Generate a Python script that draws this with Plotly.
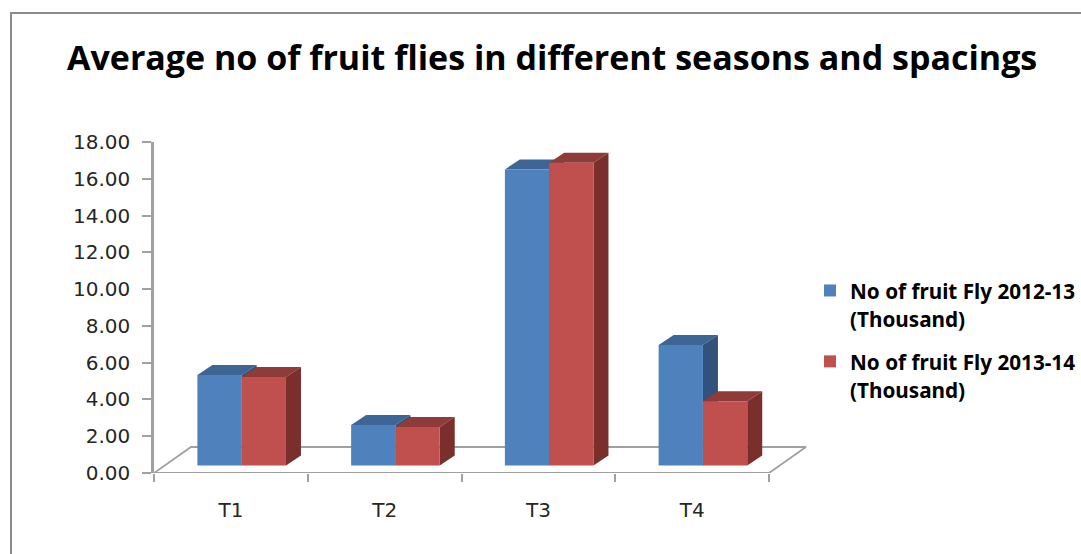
import plotly.graph_objects as go

categories = ["T1", "T2", "T3", "T4"]
flies_2012_13 = [4.92, 2.2, 16.1, 6.55]
flies_2013_14 = [4.81, 2.1, 16.47, 3.5]
series_names = ["No of fruit Fly 2012-13<br>(Thousand)", "No of fruit Fly 2013-14<br>(Thousand)"]
y_ticks = [0, 2, 4, 6, 8, 10, 12, 14, 16, 18]

W, H = 1081, 554
LEFT, RIGHT, TOP, BOTTOM = 154, 769, 142, 473
EXTRA = 45                   # room to the right of the last category for the floor
ux = (RIGHT - LEFT) / 4      # px per category
uy = (BOTTOM - TOP) / 18     # px per value unit
bar_w = 44.3 / ux
base = 7.5 / uy              # bars stand mid-way into the floor
shift_x = 10.8 / ux          # perspective shift of the bars off the category centre
dx, dy = 15 / ux, 10 / uy    # bar depth
fx, fy = 37 / ux, 26 / uy    # floor depth
x_max = 3.5 + EXTRA / ux

GREY = "#a0a0a0"
TXT = "#262626"
TICK_FONT = dict(family="DejaVu Sans", size=20, color=TXT)


def faces(values, shift):
    tx, ty, sx, sy = [], [], [], []
    for i, v in enumerate(values):
        xl = i + shift_x + shift * bar_w
        xr = xl + bar_w
        t = base + v
        tx += [xl, xl + dx, xr + dx, xr, xl, None]
        ty += [t, t + dy, t + dy, t, t, None]
        sx += [xr, xr + dx, xr + dx, xr, xr, None]
        sy += [base, base + dy, t + dy, t, base, None]
    return tx, ty, sx, sy


def legend_label(text):
    return "<br>".join('<span style="font-size:20.7px">' + p + "</span>" for p in text.split("<br>"))


fig = go.Figure()

# floor outline
fig.add_trace(go.Scatter(
    x=[-0.5, -0.5 + fx, 3.5 + fx, 3.5], y=[0, fy, fy, 0], mode="lines",
    line=dict(color=GREY, width=1.8), showlegend=False, cliponaxis=False, hoverinfo="skip"))
# front edge of the floor (the category axis line)
fig.add_trace(go.Scatter(
    x=[-0.5, 3.5], y=[0, 0], mode="lines",
    line=dict(color=GREY, width=2), showlegend=False, cliponaxis=False, hoverinfo="skip"))

# depth faces below the bars
for vals, shift, top_c, side_c in [
    (flies_2012_13, -1, "#3D6694", "#31527A"),
    (flies_2013_14, 0, "#8F3B39", "#7A2F2D"),
]:
    tx, ty, sx, sy = faces(vals, shift)
    fig.add_trace(go.Scatter(x=tx, y=ty, mode="lines", fill="toself", fillcolor=top_c,
                             line=dict(width=0), showlegend=False, hoverinfo="skip"))
    fig.add_trace(go.Scatter(x=sx, y=sy, mode="lines", fill="toself", fillcolor=side_c,
                             line=dict(width=0), showlegend=False, hoverinfo="skip"))

# front faces
xs = list(range(len(categories)))
bar_xs = [i + shift_x for i in xs]
for vals, name, col, grp in [(flies_2012_13, series_names[0], "#4F81BD", "a"),
                             (flies_2013_14, series_names[1], "#C0504D", "b")]:
    fig.add_trace(go.Bar(
        x=bar_xs, y=vals, base=base, width=bar_w, name=legend_label(name), legendgroup=grp,
        marker=dict(color=col, line=dict(width=0)), xaxis="x2", yaxis="y2"))

fig.update_layout(
    width=W, height=H, autosize=False,
    margin=dict(l=0, r=0, t=0, b=0, autoexpand=False),
    paper_bgcolor="white", plot_bgcolor="white",
    barmode="group", bargap=1 - 2 * bar_w, bargroupgap=0,
    title=dict(text="<b>Average no of fruit flies in different seasons and spacings</b>",
               x=67 / W, xanchor="left", y=1 - 58 / H, yanchor="middle",
               font=dict(family="Open Sans", size=34, color="#000000")),
    xaxis=dict(domain=[LEFT / W, (RIGHT + EXTRA) / W], range=[-0.5, x_max], showgrid=False, zeroline=False,
               tickmode="array", tickvals=xs, ticktext=categories, ticks="",
               tickfont=TICK_FONT, ticklabelstandoff=23,
               showline=False,
               minor=dict(tickmode="array", tickvals=[-0.5, 0.5, 1.5, 2.5, 3.5], ticks="outside",
                          ticklen=8, tickwidth=2, tickcolor=GREY, showgrid=False)),
    yaxis=dict(domain=[1 - BOTTOM / H, 1 - TOP / H], range=[0, 18], showgrid=False, zeroline=False,
               tickmode="array", tickvals=y_ticks, ticktext=[f"{v:.2f}" for v in y_ticks],
               ticks="outside", ticklen=9, tickwidth=2, tickcolor=GREY,
               tickfont=TICK_FONT, ticklabelstandoff=8,
               showline=True, linecolor=GREY, linewidth=2.5),
    xaxis2=dict(overlaying="x", matches="x", visible=False),
    yaxis2=dict(overlaying="y", matches="y", visible=False),
    legend=dict(x=810 / W, xanchor="left", y=1 - 270 / H, yanchor="top", valign="top",
                font=dict(family="Noto Sans", size=21.5, color="#000000", weight="bold"),
                tracegroupgap=12, traceorder="grouped", bgcolor="rgba(0,0,0,0)"),
    shapes=[
        dict(type="line", xref="paper", yref="paper", x0=11 / W, x1=11 / W, y0=0, y1=1 - 13 / H,
             line=dict(color="#8c8c8c", width=2)),
        dict(type="line", xref="paper", yref="paper", x0=10 / W, x1=1, y0=1 - 13 / H, y1=1 - 13 / H,
             line=dict(color="#8c8c8c", width=2)),
    ],
)

fig.write_html("out.html", config=dict(displayModeBar=False),
               post_script="document.body.style.margin='0';document.body.style.overflow='hidden';")
